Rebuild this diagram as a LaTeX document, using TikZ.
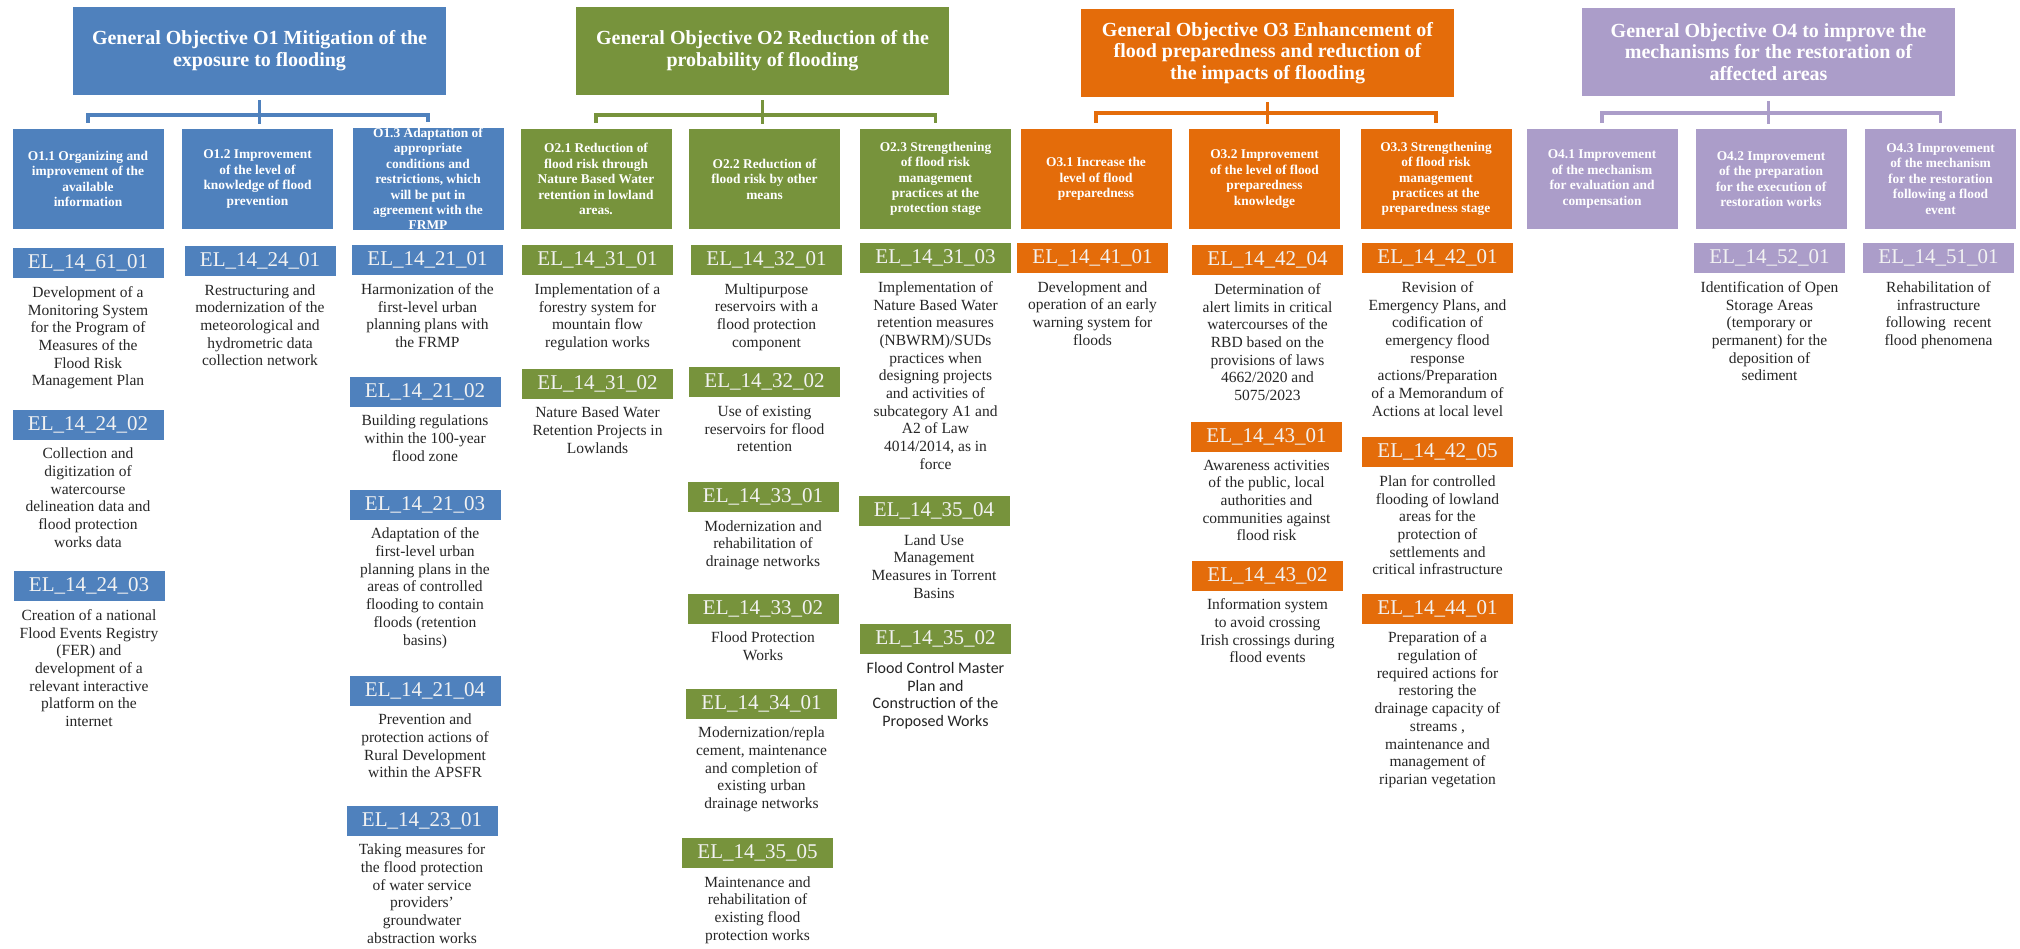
\documentclass[tikz,border=0pt]{standalone}
\usepackage{fontspec}
\setmainfont{Liberation Serif}
\newfontfamily\mysansfam{Carlito}
\newcommand\mytopfont{\bfseries\fontsize{20}{21.7}\selectfont}
\newcommand\mysubfont{\bfseries\fontsize{13.4}{15.4}\selectfont}
\newcommand\mycodefont{\fontsize{21}{24}\selectfont}
\newcommand\mydescfont{\fontsize{15.5}{17.7}\selectfont}
\definecolor{cblue}{HTML}{4F81BD}
\definecolor{cgreen}{HTML}{77933C}
\definecolor{corange}{HTML}{E46C0A}
\definecolor{cpurple}{HTML}{AB9DC9}
\definecolor{descgray}{HTML}{262626}
\tikzset{
  topbox/.style={fill=#1, minimum width=373pt, minimum height=88pt, inner sep=0pt, text=white, font=\mytopfont, align=center},
  subbox/.style={fill=#1, minimum width=151pt, minimum height=100pt, inner sep=0pt, text=white, font=\mysubfont, align=center},
  codebox/.style={fill=#1, minimum width=151pt, minimum height=30pt, inner sep=0pt, text=white!95!black, font=\mycodefont},
  desc/.style={anchor=north, inner sep=0pt, align=center, font=\mydescfont, text=descgray, execute at begin node=\strut},
  conn/.style={draw=#1, line width=3.5pt},
}
\begin{document}
\begin{tikzpicture}[x=1pt,y=-1pt]
\useasboundingbox[fill=white] (0,0) rectangle (2020,949);

% ---------------- Group O1 ----------------
\node[topbox=cblue] (O1) at (259.5,51) {General Objective O1 Mitigation of the\\exposure to flooding};
\node[subbox=cblue] (S11) at (88,179) {O1.1 Organizing and\\improvement of the\\available\\information};
\node[subbox=cblue] (S12) at (257.5,179) {O1.2 Improvement\\of the level of\\knowledge of flood\\prevention};
\node[subbox=cblue] (S13) at (428,179) {O1.3 Adaptation of\\appropriate\\conditions and\\restrictions, which\\will be put in\\agreement with the\\FRMP};
\draw[conn=cblue] ([yshift=-5pt]O1.south) -- (O1.south |- 0,124);
\draw[conn=cblue] ([yshift=6pt]S11.north) -- (S11.north |- 0,115) -- (S13.north |- 0,115) -- ([yshift=6pt]S13.north);

% ---------------- Group O2 ----------------
\node[topbox=cgreen] (O2) at (762.5,51) {General Objective O2 Reduction of the\\probability of flooding};
\node[subbox=cgreen] (S21) at (596,179) {O2.1 Reduction of\\flood risk through\\Nature Based Water\\retention in lowland\\areas.};
\node[subbox=cgreen] (S22) at (764.5,179) {O2.2 Reduction of\\flood risk by other\\means};
\node[subbox=cgreen] (S23) at (935.5,179) {O2.3 Strengthening\\of flood risk\\management\\practices at the\\protection stage};
\draw[conn=cgreen] ([yshift=-5pt]O2.south) -- (O2.south |- 0,124);
\draw[conn=cgreen] ([yshift=6pt]S21.north) -- (S21.north |- 0,115) -- (S23.north |- 0,115) -- ([yshift=6pt]S23.north);

% ---------------- Group O3 ----------------
\node[topbox=corange] (O3) at (1267.5,53) {General Objective O3 Enhancement of\\flood preparedness and reduction of\\the impacts of flooding};
\node[subbox=corange] (S31) at (1096,179) {O3.1 Increase the\\level of flood\\preparedness};
\node[subbox=corange] (S32) at (1264.5,179) {O3.2 Improvement\\of the level of flood\\preparedness\\knowledge};
\node[subbox=corange] (S33) at (1436,179) {O3.3 Strengthening\\of flood risk\\management\\practices at the\\preparedness stage};
\draw[conn=corange] ([yshift=-5pt]O3.south) -- (O3.south |- 0,124);
\draw[conn=corange] ([yshift=6pt]S31.north) -- (S31.north |- 0,113) -- (S33.north |- 0,113) -- ([yshift=6pt]S33.north);

% ---------------- Group O4 ----------------
\node[topbox=cpurple] (O4) at (1768.5,52) {General Objective O4 to improve the\\mechanisms for the restoration of\\affected areas};
\node[subbox=cpurple] (S41) at (1602,179) {O4.1 Improvement\\of the mechanism\\for evaluation and\\compensation};
\node[subbox=cpurple] (S42) at (1771,179) {O4.2 Improvement\\of the preparation\\for the execution of\\restoration works};
\node[subbox=cpurple] (S43) at (1940.5,179) {O4.3 Improvement\\of the mechanism\\for the restoration\\following a flood\\event};
\draw[conn=cpurple] ([yshift=-5pt]O4.south) -- (O4.south |- 0,124);
\draw[conn=cpurple] ([yshift=6pt]S41.north) -- (S41.north |- 0,113) -- (S43.north |- 0,113) -- ([yshift=6pt]S43.north);

% ---------------- Measures O1 ----------------
\node[codebox=cblue] (m6101) at (88,263) {EL\_14\_61\_01};
\node[desc] (d6101) at ([yshift=-8pt]m6101.south) {Development of a\\Monitoring System\\for the Program of\\Measures of the\\Flood Risk\\Management Plan};
\node[codebox=cblue] (m2402) at (88,424.5) {EL\_14\_24\_02};
\node[desc] (d2402) at ([yshift=-8pt]m2402.south) {Collection and\\digitization of\\watercourse\\delineation data and\\flood protection\\works data};
\node[codebox=cblue] (m2403) at (89,586) {EL\_14\_24\_03};
\node[desc] (d2403) at ([yshift=-8pt]m2403.south) {Creation of a national\\Flood Events Registry\\(FER) and\\development of a\\relevant interactive\\platform on the\\internet};

\node[codebox=cblue] (m2401) at (260,261) {EL\_14\_24\_01};
\node[desc] (d2401) at ([yshift=-8pt]m2401.south) {Restructuring and\\modernization of the\\meteorological and\\hydrometric data\\collection network};

\node[codebox=cblue] (m2101) at (427.5,260) {EL\_14\_21\_01};
\node[desc] (d2101) at ([yshift=-8pt]m2101.south) {Harmonization of the\\first-level urban\\planning plans with\\the FRMP};
\node[codebox=cblue] (m2102) at (425,391.5) {EL\_14\_21\_02};
\node[desc] (d2102) at ([yshift=-8pt]m2102.south) {Building regulations\\within the 100-year\\flood zone};
\node[codebox=cblue] (m2103) at (425,504.5) {EL\_14\_21\_03};
\node[desc] (d2103) at ([yshift=-8pt]m2103.south) {Adaptation of the\\first-level urban\\planning plans in the\\areas of controlled\\flooding to contain\\floods (retention\\basins)};
\node[codebox=cblue] (m2104) at (425,690.5) {EL\_14\_21\_04};
\node[desc] (d2104) at ([yshift=-8pt]m2104.south) {Prevention and\\protection actions of\\Rural Development\\within the APSFR};
\node[codebox=cblue] (m2301) at (422,820.5) {EL\_14\_23\_01};
\node[desc] (d2301) at ([yshift=-8pt]m2301.south) {Taking measures for\\the flood protection\\of water service\\providers'\\groundwater\\abstraction works};

% ---------------- Measures O2 ----------------
\node[codebox=cgreen] (m3101) at (597.5,260) {EL\_14\_31\_01};
\node[desc] (d3101) at ([yshift=-8pt]m3101.south) {Implementation of a\\forestry system for\\mountain flow\\regulation works};
\node[codebox=cgreen] (m3102) at (597.5,383.5) {EL\_14\_31\_02};
\node[desc] (d3102) at ([yshift=-8pt]m3102.south) {Nature Based Water\\Retention Projects in\\Lowlands};

\node[codebox=cgreen] (m3201) at (766.5,260) {EL\_14\_32\_01};
\node[desc] (d3201) at ([yshift=-8pt]m3201.south) {Multipurpose\\reservoirs with a\\flood protection\\component};
\node[codebox=cgreen] (m3202) at (764.5,382) {EL\_14\_32\_02};
\node[desc] (d3202) at ([yshift=-8pt]m3202.south) {Use of existing\\reservoirs for flood\\retention};
\node[codebox=cgreen] (m3301) at (763,497) {EL\_14\_33\_01};
\node[desc] (d3301) at ([yshift=-8pt]m3301.south) {Modernization and\\rehabilitation of\\drainage networks};
\node[codebox=cgreen] (m3302) at (763,608.5) {EL\_14\_33\_02};
\node[desc] (d3302) at ([yshift=-8pt]m3302.south) {Flood Protection\\Works};
\node[codebox=cgreen] (m3401) at (761.5,703.5) {EL\_14\_34\_01};
\node[desc] (d3401) at ([yshift=-8pt]m3401.south) {Modernization/repla\\cement, maintenance\\and completion of\\existing urban\\drainage networks};
\node[codebox=cgreen] (m3505) at (757.5,853) {EL\_14\_35\_05};
\node[desc] (d3505) at ([yshift=-8pt]m3505.south) {Maintenance and\\rehabilitation of\\existing flood\\protection works};

\node[codebox=cgreen] (m3103) at (935.5,258) {EL\_14\_31\_03};
\node[desc] (d3103) at ([yshift=-8pt]m3103.south) {Implementation of\\Nature Based Water\\retention measures\\(NBWRM)/SUDs\\practices when\\designing projects\\and activities of\\subcategory A1 and\\A2 of Law\\4014/2014, as in\\force};
\node[codebox=cgreen] (m3504) at (934,511) {EL\_14\_35\_04};
\node[desc] (d3504) at ([yshift=-8pt]m3504.south) {Land Use\\Management\\Measures in Torrent\\Basins};
\node[codebox=cgreen] (m3502) at (935.5,639) {EL\_14\_35\_02};
\node[desc, font=\mysansfam\fontsize{16}{17.7}\selectfont] (d3502) at ([yshift=-8pt]m3502.south) {Flood Control Master\\Plan and\\Construction of the\\Proposed Works};

% ---------------- Measures O3 ----------------
\node[codebox=corange] (m4101) at (1092.5,258) {EL\_14\_41\_01};
\node[desc] (d4101) at ([yshift=-8pt]m4101.south) {Development and\\operation of an early\\warning system for\\floods};

\node[codebox=corange] (m4204) at (1267.5,260) {EL\_14\_42\_04};
\node[desc] (d4204) at ([yshift=-8pt]m4204.south) {Determination of\\alert limits in critical\\watercourses of the\\RBD based on the\\provisions of laws\\4662/2020 and\\5075/2023};
\node[codebox=corange] (m4301) at (1266.5,436.5) {EL\_14\_43\_01};
\node[desc] (d4301) at ([yshift=-8pt]m4301.south) {Awareness activities\\of the public, local\\authorities and\\communities against\\flood risk};
\node[codebox=corange] (m4302) at (1267.5,575.5) {EL\_14\_43\_02};
\node[desc] (d4302) at ([yshift=-8pt]m4302.south) {Information system\\to avoid crossing\\Irish crossings during\\flood events};

\node[codebox=corange] (m4201) at (1437.5,258) {EL\_14\_42\_01};
\node[desc] (d4201) at ([yshift=-8pt]m4201.south) {Revision of\\Emergency Plans, and\\codification of\\emergency flood\\response\\actions/Preparation\\of a Memorandum of\\Actions at local level};
\node[codebox=corange] (m4205) at (1437.5,452) {EL\_14\_42\_05};
\node[desc] (d4205) at ([yshift=-8pt]m4205.south) {Plan for controlled\\flooding of lowland\\areas for the\\protection of\\settlements and\\critical infrastructure};
\node[codebox=corange] (m4401) at (1437.5,608.5) {EL\_14\_44\_01};
\node[desc] (d4401) at ([yshift=-8pt]m4401.south) {Preparation of a\\regulation of\\required actions for\\restoring the\\drainage capacity of\\streams ,\\maintenance and\\management of\\riparian vegetation};

% ---------------- Measures O4 ----------------
\node[codebox=cpurple] (m5201) at (1769.5,258) {EL\_14\_52\_01};
\node[desc] (d5201) at ([yshift=-8pt]m5201.south) {Identification of Open\\Storage Areas\\(temporary or\\permanent) for the\\deposition of\\sediment};
\node[codebox=cpurple] (m5101) at (1938.5,258) {EL\_14\_51\_01};
\node[desc] (d5101) at ([yshift=-8pt]m5101.south) {Rehabilitation of\\infrastructure\\following\ \ recent\\flood phenomena};
\end{tikzpicture}
\end{document}
